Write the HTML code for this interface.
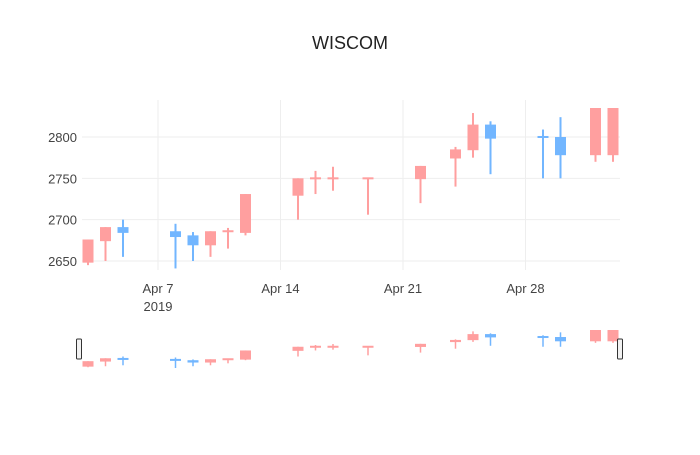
<!DOCTYPE html>
<html><head><meta charset="utf-8"><style>
body{margin:0;background:#fff;}
svg text{font-family:"Liberation Sans",sans-serif;fill:#444;}
</style></head><body>
<svg id="chart" width="700" height="450" xmlns="http://www.w3.org/2000/svg">
<text x="350" y="49" text-anchor="middle" style="font-size:18px;fill:#222">WISCOM</text>
<g id="grid"></g><g id="candles"></g><g id="slider"></g><g id="axes"></g>
</svg>
<script>
const dates=["2019-04-03","2019-04-04","2019-04-05","2019-04-08","2019-04-09","2019-04-10","2019-04-11","2019-04-12","2019-04-15","2019-04-16","2019-04-17","2019-04-19","2019-04-22","2019-04-24","2019-04-25","2019-04-26","2019-04-29","2019-04-30","2019-05-02","2019-05-03"];
const opens=[2648,2674,2691,2686,2681,2669,2685,2684,2729,2749,2749,2749,2749,2774,2784,2815,2801,2800,2778,2778];
const closes=[2676,2691,2684,2679,2669,2686,2687,2731,2750,2751,2751,2751,2765,2785,2815,2798,2799,2778,2836,2836];
const highs=[2676,2691,2700,2695,2685,2686,2690,2731,2750,2759,2764,2751,2765,2788,2829,2819,2809,2824,2836,2836];
const lows=[2645,2650,2655,2641,2650,2655,2665,2681,2700,2731,2735,2706,2720,2740,2775,2755,2750,2750,2770,2770];
const yTicks=[2650,2700,2750,2800];
const xTicks=["2019-04-07","2019-04-14","2019-04-21","2019-04-28"];
const xTickLabels=["Apr 7","Apr 14","Apr 21","Apr 28"];
const NS="http://www.w3.org/2000/svg";
const day=86400000, t0=Date.parse("2019-04-07");
function x(d){return 158+(Date.parse(d)-t0)/day*17.5;}
function y(v){return 261-(v-2650)*0.8267;}
function ys(v){return 368-(v-2641)*38/195;}
function mk(tag,attrs,parent){const e=document.createElementNS(NS,tag);for(const k in attrs)e.setAttribute(k,attrs[k]);document.getElementById(parent).appendChild(e);return e;}
const PL=82,PR=620,PT=100,PB=270;
yTicks.forEach(v=>{
 const l=mk('line',{x1:PL,x2:PR,y1:y(v),y2:y(v),stroke:'#eee','stroke-width':1},'grid');
 
 
 const t=mk('text',{x:77,y:y(v)+5,'text-anchor':'end','font-size':13},'axes');
 t.textContent=v;
 
 
});
xTicks.forEach((d,i)=>{
 const l=mk('line',{x1:x(d),x2:x(d),y1:PT,y2:PB,stroke:'#eee','stroke-width':1},'grid');
 
 
 const t=mk('text',{x:x(d),y:293,'text-anchor':'middle','font-size':13},'axes');
 t.textContent=xTickLabels[i];
 
 
});
const yr=mk('text',{x:x(xTicks[0]),y:311,'text-anchor':'middle','font-size':13},'axes');
yr.textContent="2019";


const cp=mk('clipPath',{id:'clip'},'candles');
const cr=document.createElementNS(NS,'rect');
cr.setAttribute('x',PL);cr.setAttribute('y',108);cr.setAttribute('width',PR-PL);cr.setAttribute('height',PB-108);cp.appendChild(cr);
const cg=mk('g',{'clip-path':'url(#clip)'},'candles');cg.id='cg';
function candle(i,parent,yf,w,lw){
 const col=closes[i]>=opens[i]?'#ff9f9f':'#72b6ff';
 const cx=x(dates[i]);
 const g=mk('g',{},parent);
 
 
 const wl=document.createElementNS(NS,'line');
 wl.setAttribute('x1',cx);wl.setAttribute('x2',cx);wl.setAttribute('y1',yf(highs[i]));wl.setAttribute('y2',yf(lows[i]));wl.setAttribute('stroke',col);wl.setAttribute('stroke-width',lw);g.appendChild(wl);
 let top=yf(Math.max(opens[i],closes[i])),bot=yf(Math.min(opens[i],closes[i]));
 if(bot-top<2){const m=(top+bot)/2;top=m-1;bot=m+1;}
 const r=document.createElementNS(NS,'rect');
 r.setAttribute('x',cx-w/2);r.setAttribute('y',top);r.setAttribute('width',w);r.setAttribute('height',bot-top);r.setAttribute('fill',col);g.appendChild(r);
}
dates.forEach((d,i)=>candle(i,'cg',y,11,2));
dates.forEach((d,i)=>candle(i,'slider',ys,11,1.5));
[79,620].forEach((hx,k)=>{
 const h=mk('rect',{x:hx-2.5,y:339,width:5,height:20,rx:1,fill:'#f2f2f2',stroke:'#333','stroke-width':1},'slider');
 
 
});
</script>
</body></html>
